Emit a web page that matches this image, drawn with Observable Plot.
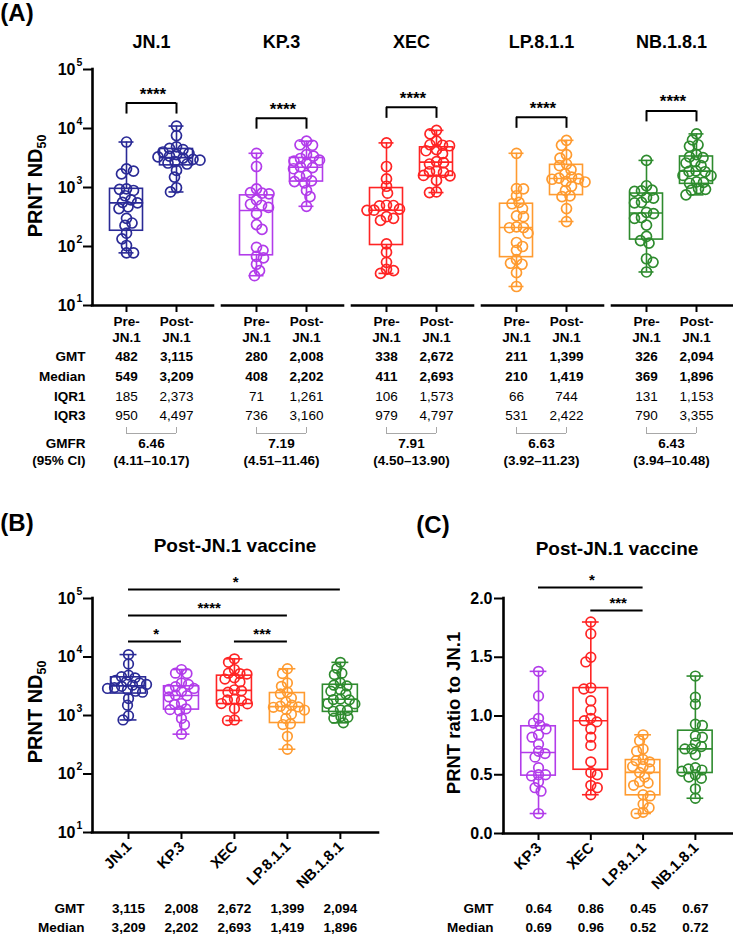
<!DOCTYPE html>
<html>
<head>
<meta charset="utf-8">
<script src="https://cdn.jsdelivr.net/npm/d3@7"></script>
<script src="https://cdn.jsdelivr.net/npm/@observablehq/plot@0.6"></script>
<style>
  body { margin: 0; background: #fff; }
  #fig { position: relative; width: 733px; height: 940px; overflow: hidden;
         font-family: "Liberation Sans", Arial, Helvetica, sans-serif; font-weight: bold; color: #000; }
  #fig > svg { position: absolute; }
  .lab { position: absolute; white-space: nowrap; line-height: 1; transform: translate(-50%, -50%); }
  .ylab { position: absolute; white-space: nowrap; line-height: 1; transform: translate(-50%, -50%) rotate(-90deg); font-size: 20px; }
  .ylab sub { font-size: 0.62em; vertical-align: -0.3em; }
  g[aria-label="stars"] text { letter-spacing: 2.5px; }
</style>
</head>
<body>
<div id="fig"></div>
<script>
// ---- data -------------------------------------------------------------
const variants = ["JN.1", "KP.3", "XEC", "LP.8.1.1", "NB.1.8.1"];
const colors = ["#2a2a96", "#b23cea", "#ff2424", "#ff9b30", "#2e8b2e"];

// PRNT ND50 titres, pre- and post-JN.1 vaccination
const preJN1 = [5900, 2070, 1890, 1700, 950, 930, 890, 725, 615, 560, 550, 470, 440, 300, 250, 228, 168, 135, 104, 78, 78];
const postJN1 = [11000, 7600, 4900, 4600, 4400, 4000, 3800, 3600, 3400, 3300, 3150, 3000, 2900, 2750, 2600, 2500, 1950, 1500, 990, 840];
const preKP3 = [3800, 2270, 950, 820, 800, 780, 615, 520, 500, 460, 360, 235, 195, 97, 86, 68, 64, 50, 39, 32];
const postKP3 = [6100, 5300, 5200, 3600, 3400, 3100, 2900, 2800, 2570, 2230, 2180, 2080, 1600, 1550, 1300, 1260, 1200, 890, 700, 480];
const preXEC = [5700, 2270, 1400, 1050, 800, 500, 495, 490, 430, 412, 410, 320, 300, 277, 111, 80, 54, 41, 39, 35];
const postXEC = [9300, 8100, 6100, 5300, 5200, 5100, 4400, 4200, 3750, 2750, 2640, 2500, 1900, 1850, 1800, 1600, 1580, 1320, 840, 820];
const preLP811 = [3800, 960, 950, 725, 560, 530, 440, 330, 320, 215, 210, 208, 168, 117, 100, 86, 60, 52, 50, 36, 21];
const postLP811 = [6300, 5200, 3600, 3150, 2500, 2340, 2000, 1700, 1500, 1440, 1400, 1380, 1260, 1240, 1050, 890, 720, 700, 440, 265];
const preNB181 = [2880, 1070, 900, 880, 860, 680, 660, 560, 550, 380, 360, 310, 300, 230, 148, 126, 114, 62, 54, 37];
const postNB181 = [8100, 6400, 5300, 5000, 3600, 3300, 3200, 2750, 2600, 2340, 1920, 1870, 1850, 1600, 1580, 1250, 1220, 1180, 960, 930, 900, 750];

// summary table (A)
const gmtPre = [482, 280, 338, 211, 326];
const gmtPost = [3115, 2008, 2672, 1399, 2094];
const medianPre = [549, 408, 411, 210, 369];
const medianPost = [3209, 2202, 2693, 1419, 1896];
const iqr1Pre = [185, 71, 106, 66, 131];
const iqr1Post = [2373, 1261, 1573, 744, 1153];
const iqr3Pre = [950, 736, 979, 531, 790];
const iqr3Post = [4497, 3160, 4797, 2422, 3355];
const gmfr = [6.46, 7.19, 7.91, 6.63, 6.43];
const gmfrLow = [4.11, 4.51, 4.50, 3.92, 3.94];
const gmfrHigh = [10.17, 11.46, 13.90, 11.23, 10.48];
const sigA = ["****", "****", "****", "****", "****"];

// (B) pairwise comparisons among post-JN.1 titres
const sigB = [
  {from: "JN.1", to: "KP.3", label: "*", level: 0},
  {from: "XEC", to: "LP.8.1.1", label: "***", level: 0},
  {from: "JN.1", to: "LP.8.1.1", label: "****", level: 1},
  {from: "JN.1", to: "NB.1.8.1", label: "*", level: 2}
];

// (C) PRNT ratio to JN.1 (post-JN.1 vaccine)
const ratioVariants = ["KP.3", "XEC", "LP.8.1.1", "NB.1.8.1"];
const ratioKP3 = [1.38, 1.17, 0.98, 0.94, 0.92, 0.89, 0.84, 0.82, 0.76, 0.70, 0.68, 0.65, 0.56, 0.50, 0.50, 0.49, 0.44, 0.39, 0.36, 0.17];
const ratioXEC = [1.80, 1.70, 1.50, 1.46, 1.24, 1.23, 1.13, 1.05, 0.98, 0.96, 0.95, 0.89, 0.82, 0.75, 0.61, 0.52, 0.50, 0.41, 0.39, 0.33];
const ratioLP811 = [0.84, 0.79, 0.72, 0.70, 0.63, 0.62, 0.61, 0.57, 0.57, 0.55, 0.52, 0.48, 0.44, 0.43, 0.41, 0.33, 0.32, 0.25, 0.22, 0.18, 0.17];
const ratioNB181 = [1.34, 1.16, 1.10, 0.93, 0.92, 0.83, 0.82, 0.77, 0.74, 0.72, 0.72, 0.67, 0.56, 0.55, 0.54, 0.53, 0.50, 0.48, 0.47, 0.38, 0.30];
const gmtRatio = [0.64, 0.86, 0.45, 0.67];
const medianRatio = [0.69, 0.96, 0.52, 0.72];
const sigC = [
  {from: "XEC", to: "LP.8.1.1", label: "***", level: 0},
  {from: "KP.3", to: "LP.8.1.1", label: "*", level: 1}
];

// ---- helpers ----------------------------------------------------------
const FONT = '"Liberation Sans", Arial, Helvetica, sans-serif';
const fig = document.getElementById("fig");
const fmtInt = d3.format(",");
const fmt2 = d3.format(".2f");

function place(node, left, top) {
  node.style.left = left + "px";
  node.style.top = top + "px";
  fig.appendChild(node);
}
function label(html, cx, cy, size, cls = "lab") {
  const d = document.createElement("div");
  d.className = cls;
  d.innerHTML = html;
  if (size) d.style.fontSize = size + "px";
  d.style.left = cx + "px";
  d.style.top = cy + "px";
  fig.appendChild(d);
}

// quartile on the (n + 1) basis, interpolating between ranks
function quartile(sorted, p) {
  const n = sorted.length;
  const pos = Math.min(Math.max(p * (n + 1), 1), n) - 1;
  const lo = Math.floor(pos), hi = Math.min(lo + 1, n - 1);
  return sorted[lo] + (pos - lo) * (sorted[hi] - sorted[lo]);
}

// spread points sideways so the open circles of a column stay readable
function swarm(values, toPx, r) {
  const order = d3.range(values.length).sort((a, b) => values[b] - values[a]);
  const placed = [];
  const off = new Array(values.length);
  const minD = 2 * r * 0.7;
  order.forEach((i, k) => {
    const y = toPx(values[i]);
    const sgn = k % 2 ? -1 : 1;
    let best = 0;
    for (let s = 0; s < 80; s += 0.5) {
      const cands = s === 0 ? [0] : [sgn * s, -sgn * s];
      const ok = cands.find(c => placed.every(p => (p.x - c) ** 2 + (p.y - y) ** 2 >= minD * minD));
      if (ok !== undefined) { best = ok; break; }
    }
    placed.push({x: best, y});
    off[i] = best;
  });
  return off;
}

function boxMarks(groups, hw, cw, sw) {
  return [
    Plot.ruleX(groups, {x: "pos", y1: "q3", y2: "max", stroke: "color", strokeWidth: sw}),
    Plot.ruleX(groups, {x: "pos", y1: "min", y2: "q1", stroke: "color", strokeWidth: sw}),
    Plot.ruleY(groups, {y: "max", x1: d => d.pos - cw, x2: d => d.pos + cw, stroke: "color", strokeWidth: sw}),
    Plot.ruleY(groups, {y: "min", x1: d => d.pos - cw, x2: d => d.pos + cw, stroke: "color", strokeWidth: sw}),
    Plot.rect(groups, {x1: d => d.pos - hw, x2: d => d.pos + hw, y1: "q1", y2: "q3", stroke: "color", fill: "none", strokeWidth: sw}),
    Plot.ruleY(groups, {y: "med", x1: d => d.pos - hw, x2: d => d.pos + hw, stroke: "color", strokeWidth: sw})
  ];
}

function dotsFor(groups, xs, ys, r) {
  const unit = xs(1) - xs(0);
  const pts = [];
  groups.forEach(g => {
    const off = swarm(g.values, ys, r);
    g.values.forEach((v, k) => pts.push({x: g.pos + off[k] / unit, y: v, color: g.color}));
  });
  return pts;
}

const style = {fontFamily: FONT, fontSize: "14px", color: "#000", background: "transparent", overflow: "visible"};

// ---- (A) pre vs post JN.1 vaccine, per variant ---------------------------
{
  const W = 733, H = 480, mL = 92, mR = 0, mT = 69, mB = 175;
  const step = 2.6;                      // distance between variant pairs (pre→post = 1)
  const xDom = [-0.68, 4 * step + 1 + 0.74];
  const yDom = [10, 1e5];
  const xs = d3.scaleLinear(xDom, [mL, W - mR]);
  const ys = d3.scaleLog(yDom, [H - mB, mT]);
  const preSets = [preJN1, preKP3, preXEC, preLP811, preNB181];
  const postSets = [postJN1, postKP3, postXEC, postLP811, postNB181];

  const groups = [];
  variants.forEach((v, i) => {
    groups.push({variant: v, status: "Pre-", pos: i * step, color: colors[i], values: preSets[i],
      q1: iqr1Pre[i], med: medianPre[i], q3: iqr3Pre[i], gmt: gmtPre[i]});
    groups.push({variant: v, status: "Post-", pos: i * step + 1, color: colors[i], values: postSets[i],
      q1: iqr1Post[i], med: medianPost[i], q3: iqr3Post[i], gmt: gmtPost[i]});
  });
  groups.forEach(g => { g.min = d3.min(g.values); g.max = d3.max(g.values); });

  const pairs = variants.map((v, i) => {
    const top = Math.max(d3.max(preSets[i]), d3.max(postSets[i]));
    return {variant: v, pre: i * step, post: i * step + 1, mid: i * step + 0.5,
      lo: top * Math.pow(10, 12 / 59), hi: top * Math.pow(10, 23 / 59), sig: sigA[i],
      gmfr: gmfr[i], ci: `(${fmt2(gmfrLow[i])}–${fmt2(gmfrHigh[i])})`,
      seg1: i * step - 0.68, seg2: i * step + 1.74};
  });
  const pts = dotsFor(groups, xs, ys, 5);
  const yTicks = [10, 100, 1000, 10000, 100000];

  const rows = [
    {name: "GMT", key: "gmt", dy: 55, weight: "bold"},
    {name: "Median", key: "med", dy: 75, weight: "bold"},
    {name: "IQR1", key: "q1", dy: 95, weight: "normal"},
    {name: "IQR3", key: "q3", dy: 114, weight: "normal"}
  ];

  const chart = Plot.plot({
    width: W, height: H, marginLeft: mL, marginRight: mR, marginTop: mT, marginBottom: mB,
    style,
    x: {domain: xDom, axis: null},
    y: {type: "log", domain: yDom, axis: null},
    color: {type: "identity"},
    marks: [
      // axes
      Plot.ruleX([xDom[0]], {x: d => d, y1: yDom[0], y2: yDom[1], strokeWidth: 2.6, strokeLinecap: "square"}),
      Plot.ruleY(pairs, {y: yDom[0], x1: "seg1", x2: "seg2", strokeWidth: 2.6, strokeLinecap: "square"}),
      Plot.ruleY(yTicks, {y: d => d, x1: xDom[0], x2: xDom[0], insetLeft: -9, strokeWidth: 2}),
      Plot.ruleX(groups, {x: "pos", y1: yDom[0], y2: yDom[0], insetBottom: -7, strokeWidth: 2}),
      Plot.text(yTicks, {y: d => d, text: () => "10", frameAnchor: "left", dx: -17, textAnchor: "end", fontSize: 16, fontWeight: "bold"}),
      Plot.text(yTicks, {y: d => d, text: d => String(Math.round(Math.log10(d))), frameAnchor: "left", dx: -16, dy: -7, textAnchor: "start", fontSize: 10.5, fontWeight: "bold"}),
      // variant titles
      Plot.text(pairs, {x: "mid", text: "variant", frameAnchor: "top", dy: -34, fontSize: 18, fontWeight: "bold"}),
      // boxes and points
      ...boxMarks(groups, 0.33, 0.15, 1.6),
      Plot.dot(pts, {x: "x", y: "y", r: 5, stroke: "color", fill: "none", strokeWidth: 1.7}),
      // significance brackets
      Plot.ruleY(pairs, {y: "hi", x1: "pre", x2: "post", strokeWidth: 2}),
      Plot.ruleX(pairs, {x: "pre", y1: "lo", y2: "hi", strokeWidth: 2}),
      Plot.ruleX(pairs, {x: "post", y1: "lo", y2: "hi", strokeWidth: 2}),
      Plot.text(pairs, {x: "mid", y: "hi", text: "sig", dy: -9, dx: 1.5, fontSize: 17, fontWeight: "bold", ariaLabel: "stars"}),
      // group labels under the axis
      Plot.text(groups, {x: "pos", text: "status", frameAnchor: "bottom", dy: 20, fontSize: 13.5, fontWeight: "bold"}),
      Plot.text(groups, {x: "pos", text: () => "JN.1", frameAnchor: "bottom", dy: 36, fontSize: 13.5, fontWeight: "bold"}),
      // summary table
      ...rows.map(r => Plot.text([r], {text: "name", frameAnchor: "bottom-left", dx: -7, dy: r.dy, textAnchor: "end", fontSize: 13.5, fontWeight: "bold"})),
      ...rows.map(r => Plot.text(groups, {x: "pos", text: d => fmtInt(d[r.key]), frameAnchor: "bottom", dy: r.dy, fontSize: 13.5, fontWeight: r.weight})),
      Plot.ruleY(pairs, {y: yDom[0], x1: "pre", x2: "post", dy: 128, stroke: "#a8a8a8", strokeWidth: 1}),
      Plot.ruleX(groups, {x: "pos", y1: yDom[0], y2: yDom[0], insetBottom: -6, dy: 122, stroke: "#a8a8a8", strokeWidth: 1}),
      Plot.text(["GMFR"], {text: d => d, frameAnchor: "bottom-left", dx: -7, dy: 142, textAnchor: "end", fontSize: 13.5, fontWeight: "bold"}),
      Plot.text(["(95% CI)"], {text: d => d, frameAnchor: "bottom-left", dx: -7, dy: 159, textAnchor: "end", fontSize: 13.5, fontWeight: "bold"}),
      Plot.text(pairs, {x: "mid", text: d => fmt2(d.gmfr), frameAnchor: "bottom", dy: 142, fontSize: 13.5, fontWeight: "bold"}),
      Plot.text(pairs, {x: "mid", text: "ci", frameAnchor: "bottom", dy: 159, fontSize: 13.5, fontWeight: "bold"})
    ]
  });
  place(chart, 0, 0);
}

// ---- (B) post-JN.1 titres across variants -------------------------------
{
  const W = 380, H = 460, mL = 92, mR = 2, mT = 118, mB = 108;
  const xDom = [-0.68, 4.72];
  const yDom = [10, 1e5];
  const xs = d3.scaleLinear(xDom, [mL, W - mR]);
  const ys = d3.scaleLog(yDom, [H - mB, mT]);
  const postSets = [postJN1, postKP3, postXEC, postLP811, postNB181];
  const groups = variants.map((v, i) => ({variant: v, pos: i, color: colors[i], values: postSets[i],
    q1: iqr1Post[i], med: medianPost[i], q3: iqr3Post[i], gmt: gmtPost[i],
    min: d3.min(postSets[i]), max: d3.max(postSets[i])}));
  const pts = dotsFor(groups, xs, ys, 4.8);
  const yTicks = [10, 100, 1000, 10000, 100000];
  const comps = sigB.map(c => ({...c, x1: variants.indexOf(c.from), x2: variants.indexOf(c.to),
    mid: (variants.indexOf(c.from) + variants.indexOf(c.to)) / 2, y: Math.pow(10, 4.265 + 0.445 * c.level)}));

  const chart = Plot.plot({
    width: W, height: H, marginLeft: mL, marginRight: mR, marginTop: mT, marginBottom: mB,
    style,
    x: {domain: xDom, axis: null},
    y: {type: "log", domain: yDom, axis: null},
    color: {type: "identity"},
    marks: [
      Plot.ruleX([xDom[0]], {x: d => d, y1: yDom[0], y2: yDom[1], strokeWidth: 2.6, strokeLinecap: "square"}),
      Plot.ruleY([yDom[0]], {y: d => d, x1: xDom[0], x2: xDom[1], strokeWidth: 2.6, strokeLinecap: "square"}),
      Plot.ruleY(yTicks, {y: d => d, x1: xDom[0], x2: xDom[0], insetLeft: -9, strokeWidth: 2}),
      Plot.ruleX(groups, {x: "pos", y1: yDom[0], y2: yDom[0], insetBottom: -7, strokeWidth: 2}),
      Plot.text(yTicks, {y: d => d, text: () => "10", frameAnchor: "left", dx: -17, textAnchor: "end", fontSize: 16, fontWeight: "bold"}),
      Plot.text(yTicks, {y: d => d, text: d => String(Math.round(Math.log10(d))), frameAnchor: "left", dx: -16, dy: -7, textAnchor: "start", fontSize: 10.5, fontWeight: "bold"}),
      ...boxMarks(groups, 0.33, 0.16, 1.6),
      Plot.dot(pts, {x: "x", y: "y", r: 4.8, stroke: "color", fill: "none", strokeWidth: 1.7}),
      Plot.ruleY(comps, {y: "y", x1: "x1", x2: "x2", strokeWidth: 2}),
      Plot.text(comps, {x: "mid", y: "y", text: "label", dy: -7, dx: 1.2, fontSize: 15, fontWeight: "bold", ariaLabel: "stars"}),
      Plot.text(groups, {x: "pos", text: "variant", frameAnchor: "bottom", rotate: -45, textAnchor: "end", dx: 4, dy: 15, fontSize: 15, fontWeight: "bold"}),
      Plot.text(["GMT"], {text: d => d, frameAnchor: "bottom-left", dx: -8, dy: 80, textAnchor: "end", fontSize: 13.5, fontWeight: "bold"}),
      Plot.text(["Median"], {text: d => d, frameAnchor: "bottom-left", dx: -8, dy: 99, textAnchor: "end", fontSize: 13.5, fontWeight: "bold"}),
      Plot.text(groups, {x: "pos", text: d => fmtInt(d.gmt), frameAnchor: "bottom", dy: 80, fontSize: 13.5, fontWeight: "bold"}),
      Plot.text(groups, {x: "pos", text: d => fmtInt(d.med), frameAnchor: "bottom", dy: 99, fontSize: 13.5, fontWeight: "bold"})
    ]
  });
  place(chart, 0, 480);
}

// ---- (C) ratio to JN.1 ---------------------------------------------------
{
  const W = 353, H = 460, mL = 123, mR = 1, mT = 118, mB = 107;
  const xDom = [-0.67, 3.71];
  const yDom = [0, 2];
  const xs = d3.scaleLinear(xDom, [mL, W - mR]);
  const ys = d3.scaleLinear(yDom, [H - mB, mT]);
  const sets = [ratioKP3, ratioXEC, ratioLP811, ratioNB181];
  const groups = ratioVariants.map((v, i) => {
    const sorted = sets[i].slice().sort(d3.ascending);
    return {variant: v, pos: i, color: colors[i + 1], values: sets[i],
      q1: quartile(sorted, 0.25), med: medianRatio[i], q3: quartile(sorted, 0.75),
      gmt: gmtRatio[i], min: sorted[0], max: sorted[sorted.length - 1]};
  });
  const pts = dotsFor(groups, xs, ys, 4.8);
  const yTicks = [0, 0.5, 1, 1.5, 2];
  const comps = sigC.map(c => ({...c, x1: ratioVariants.indexOf(c.from), x2: ratioVariants.indexOf(c.to),
    mid: (ratioVariants.indexOf(c.from) + ratioVariants.indexOf(c.to)) / 2, y: 1.898 + 0.196 * c.level}));

  const chart = Plot.plot({
    width: W, height: H, marginLeft: mL, marginRight: mR, marginTop: mT, marginBottom: mB,
    style,
    x: {domain: xDom, axis: null},
    y: {domain: yDom, axis: null},
    color: {type: "identity"},
    marks: [
      Plot.ruleX([xDom[0]], {x: d => d, y1: yDom[0], y2: yDom[1], strokeWidth: 2.6, strokeLinecap: "square"}),
      Plot.ruleY([yDom[0]], {y: d => d, x1: xDom[0], x2: xDom[1], strokeWidth: 2.6, strokeLinecap: "square"}),
      Plot.ruleY(yTicks, {y: d => d, x1: xDom[0], x2: xDom[0], insetLeft: -9, strokeWidth: 2}),
      Plot.ruleX(groups, {x: "pos", y1: yDom[0], y2: yDom[0], insetBottom: -7, strokeWidth: 2}),
      Plot.text(yTicks, {y: d => d, text: d => d.toFixed(1), frameAnchor: "left", dx: -11, textAnchor: "end", fontSize: 16, fontWeight: "bold"}),
      ...boxMarks(groups, 0.33, 0.16, 1.6),
      Plot.dot(pts, {x: "x", y: "y", r: 4.8, stroke: "color", fill: "none", strokeWidth: 1.7}),
      Plot.ruleY(comps, {y: "y", x1: "x1", x2: "x2", strokeWidth: 2}),
      Plot.text(comps, {x: "mid", y: "y", text: "label", dy: -7, dx: 1.2, fontSize: 15, fontWeight: "bold", ariaLabel: "stars"}),
      Plot.text(groups, {x: "pos", text: "variant", frameAnchor: "bottom", rotate: -45, textAnchor: "end", dx: 4, dy: 15, fontSize: 15, fontWeight: "bold"}),
      Plot.text(["GMT"], {text: d => d, frameAnchor: "bottom-left", dx: -10, dy: 79, textAnchor: "end", fontSize: 13.5, fontWeight: "bold"}),
      Plot.text(["Median"], {text: d => d, frameAnchor: "bottom-left", dx: -10, dy: 98, textAnchor: "end", fontSize: 13.5, fontWeight: "bold"}),
      Plot.text(groups, {x: "pos", text: d => fmt2(d.gmt), frameAnchor: "bottom", dy: 79, fontSize: 13.5, fontWeight: "bold"}),
      Plot.text(groups, {x: "pos", text: d => fmt2(d.med), frameAnchor: "bottom", dy: 98, fontSize: 13.5, fontWeight: "bold"})
    ]
  });
  place(chart, 380, 480);
}

// ---- panel letters, titles and axis labels ------------------------------
label("(A)", 17, 13, 24);
label("(B)", 17, 523, 24);
label("(C)", 433, 525, 24);
label("Post-JN.1 vaccine", 235, 545, 19);
label("Post-JN.1 vaccine", 617, 548, 19);
label("PRNT ND<sub>50</sub>", 37, 186, 20, "ylab");
label("PRNT ND<sub>50</sub>", 37, 712, 20, "ylab");
label("PRNT ratio to JN.1", 454, 713, 18.5, "ylab");
</script>
</body>
</html>
